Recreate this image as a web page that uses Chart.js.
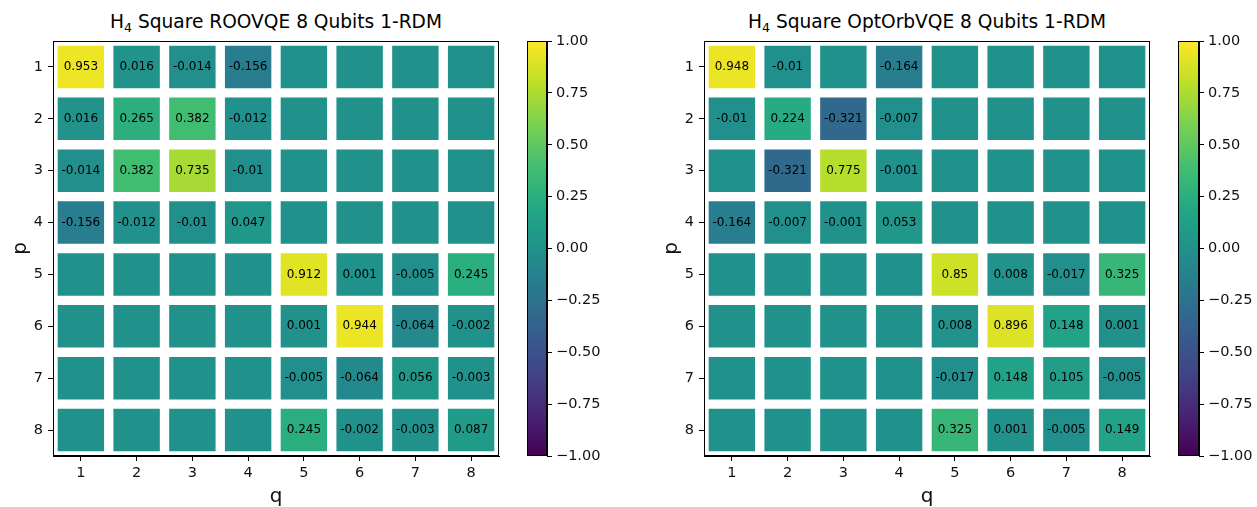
<!DOCTYPE html>
<html>
<head>
<meta charset="utf-8">
<script src="https://cdn.jsdelivr.net/npm/chart.js@4/dist/chart.umd.min.js"></script>
<style>
  body { margin: 0; background: #fff; width: 1257px; height: 507px; position: relative; overflow: hidden; font-family: "DejaVu Sans", sans-serif; }
  canvas { position: absolute; top: 0; }
  .title { position: absolute; top: 12px; width: 446px; text-align: center; font-size: 18.6px; line-height: 20px; color: #000; white-space: nowrap; }
  .title sub { font-size: 12.5px; vertical-align: -4px; line-height: 0; }
</style>
</head>
<body>
<div class="title" style="left:53px">H<sub>4</sub> Square ROOVQE 8 Qubits 1-RDM</div>
<div class="title" style="left:704px">H<sub>4</sub> Square OptOrbVQE 8 Qubits 1-RDM</div>
<canvas id="heatA" width="510" height="507" style="left:0px"></canvas>
<canvas id="barA" width="100" height="507" style="left:520px"></canvas>
<canvas id="heatB" width="510" height="507" style="left:651px"></canvas>
<canvas id="barB" width="86" height="507" style="left:1171px"></canvas>
<script>
/* global Chart */

const qLabels = ["1", "2", "3", "4", "5", "6", "7", "8"];
const pRows = [1, 2, 3, 4, 5, 6, 7, 8];

// 1-RDM values, row p, column q (0 = not printed)
const roovqeRdm = [
  [0.953, 0.016, -0.014, -0.156, 0, 0, 0, 0],
  [0.016, 0.265, 0.382, -0.012, 0, 0, 0, 0],
  [-0.014, 0.382, 0.735, -0.01, 0, 0, 0, 0],
  [-0.156, -0.012, -0.01, 0.047, 0, 0, 0, 0],
  [0, 0, 0, 0, 0.912, 0.001, -0.005, 0.245],
  [0, 0, 0, 0, 0.001, 0.944, -0.064, -0.002],
  [0, 0, 0, 0, -0.005, -0.064, 0.056, -0.003],
  [0, 0, 0, 0, 0.245, -0.002, -0.003, 0.087],
];

const optorbRdm = [
  [0.948, -0.01, 0, -0.164, 0, 0, 0, 0],
  [-0.01, 0.224, -0.321, -0.007, 0, 0, 0, 0],
  [0, -0.321, 0.775, -0.001, 0, 0, 0, 0],
  [-0.164, -0.007, -0.001, 0.053, 0, 0, 0, 0],
  [0, 0, 0, 0, 0.85, 0.008, -0.017, 0.325],
  [0, 0, 0, 0, 0.008, 0.896, 0.148, 0.001],
  [0, 0, 0, 0, -0.017, 0.148, 0.105, -0.005],
  [0, 0, 0, 0, 0.325, 0.001, -0.005, 0.149],
];

const colorbarRange = [-1, 1];
const colorbarStep = 0.25;

// viridis stops
const viridis = ["#440154", "#482475", "#414487", "#355f8d", "#2a788e", "#21918c",
  "#22a884", "#44bf70", "#7ad151", "#bddf26", "#fde725"];

function hexToRgb(h) {
  return [parseInt(h.slice(1, 3), 16), parseInt(h.slice(3, 5), 16), parseInt(h.slice(5, 7), 16)];
}

function viridisColor(v) {
  let t = (v - colorbarRange[0]) / (colorbarRange[1] - colorbarRange[0]);
  t = Math.max(0, Math.min(1, t));
  const pos = t * (viridis.length - 1);
  const i = Math.min(viridis.length - 2, Math.floor(pos));
  const f = pos - i;
  const a = hexToRgb(viridis[i]);
  const b = hexToRgb(viridis[i + 1]);
  const c = a.map((x, k) => Math.round(x + (b[k] - x) * f));
  return `rgb(${c[0]},${c[1]},${c[2]})`;
}

const tickFont = { family: "DejaVu Sans", size: 14.5 };
const labelFont = { family: "DejaVu Sans", size: 20, lineHeight: 1 };
const ink = "#111";

const framePlugin = {
  id: "frame",
  afterDraw(chart) {
    const { ctx, chartArea: a } = chart;
    ctx.save();
    ctx.strokeStyle = "#000";
    ctx.lineWidth = 1;
    ctx.strokeRect(Math.round(a.left) + 0.5, Math.round(a.top) + 0.5,
      Math.round(a.right - a.left) - 1, Math.round(a.bottom - a.top) - 1);
    ctx.restore();
  },
};

const cellTextPlugin = {
  id: "cellText",
  afterDatasetsDraw(chart) {
    const { ctx } = chart;
    ctx.save();
    ctx.font = "12px 'DejaVu Sans'";
    ctx.fillStyle = "#000";
    ctx.textAlign = "center";
    ctx.textBaseline = "middle";
    chart.data.datasets.forEach((ds, r) => {
      const meta = chart.getDatasetMeta(r);
      meta.data.forEach((bar, i) => {
        const v = ds.values[i];
        if (v === 0) return;
        ctx.fillText(String(v), bar.x, (bar.y + bar.base) / 2);
      });
    });
    ctx.restore();
  },
};

function renderHeatmap(id, vals) {
  const datasets = pRows.map((p, r) => ({
    data: qLabels.map(() => [p - 0.5, p + 0.5]),
    values: vals[r],
    backgroundColor: vals[r].map(viridisColor),
    borderColor: "#fff",
    borderWidth: 5,
    borderSkipped: false,
    grouped: false,
    barPercentage: 1,
    categoryPercentage: 1,
  }));

  // eslint-disable-next-line no-new
  new Chart(document.getElementById(id), {
    type: "bar",
    data: { labels: qLabels, datasets },
    plugins: [cellTextPlugin, framePlugin],
    options: {
      responsive: false,
      animation: false,
      devicePixelRatio: 1,
      layout: { padding: { top: 41, right: 11, left: 0, bottom: 0 } },
      plugins: { legend: { display: false }, tooltip: { enabled: false } },
      scales: {
        x: {
          offset: true,
          grid: { drawOnChartArea: false, offset: false, tickLength: 5, color: "#000" },
          border: { color: "#000" },
          ticks: { color: ink, font: tickFont, padding: 4 },
          title: { display: true, text: "q", color: ink, font: labelFont, padding: { top: 0, bottom: 0 } },
          afterFit: (s) => { s.height = 51; },
        },
        y: {
          type: "linear",
          reverse: true,
          min: 0.5,
          max: 8.5,
          afterBuildTicks: (s) => { s.ticks = pRows.map((v) => ({ value: v })); },
          grid: { drawOnChartArea: false, tickLength: 5, color: "#000" },
          border: { color: "#000" },
          ticks: { color: ink, font: tickFont, padding: 5 },
          title: { display: true, text: "p", color: ink, font: labelFont, padding: { top: 11, bottom: 0 } },
          afterFit: (s) => { s.width = 53; },
        },
      },
    },
  });
}

function renderColorbar(id, padLeft, barWidth) {
  const canvas = document.getElementById(id);
  const axisWidth = canvas.width - padLeft - barWidth;
  const ticks = [];
  for (let v = colorbarRange[0]; v <= colorbarRange[1] + 1e-9; v += colorbarStep) ticks.push(v);

  // eslint-disable-next-line no-new
  new Chart(canvas, {
    type: "bar",
    data: {
      labels: [""],
      datasets: [{
        data: [colorbarRange],
        barPercentage: 1,
        categoryPercentage: 1,
        backgroundColor: (c) => {
          const a = c.chart.chartArea;
          if (!a) return viridis[5];
          const g = c.chart.ctx.createLinearGradient(0, a.bottom, 0, a.top);
          viridis.forEach((col, i) => g.addColorStop(i / (viridis.length - 1), col));
          return g;
        },
      }],
    },
    plugins: [framePlugin],
    options: {
      responsive: false,
      animation: false,
      devicePixelRatio: 1,
      layout: { padding: { top: 41, right: 0, left: padLeft, bottom: 51 } },
      plugins: { legend: { display: false }, tooltip: { enabled: false } },
      scales: {
        x: { display: false },
        y: {
          position: "right",
          min: colorbarRange[0],
          max: colorbarRange[1],
          afterBuildTicks: (s) => { s.ticks = ticks.map((v) => ({ value: v })); },
          grid: { drawOnChartArea: false, tickLength: 5, color: "#000" },
          border: { color: "#000" },
          ticks: {
            color: ink,
            font: tickFont,
            padding: 4,
            callback: (v) => (v < 0 ? "\u2212" : "") + Math.abs(v).toFixed(2),
          },
          afterFit: (s) => { s.width = axisWidth; },
        },
      },
    },
  });
}

renderHeatmap("heatA", roovqeRdm);
renderHeatmap("heatB", optorbRdm);
renderColorbar("barA", 7, 20);
renderColorbar("barB", 7, 21);
</script>
</body>
</html>
